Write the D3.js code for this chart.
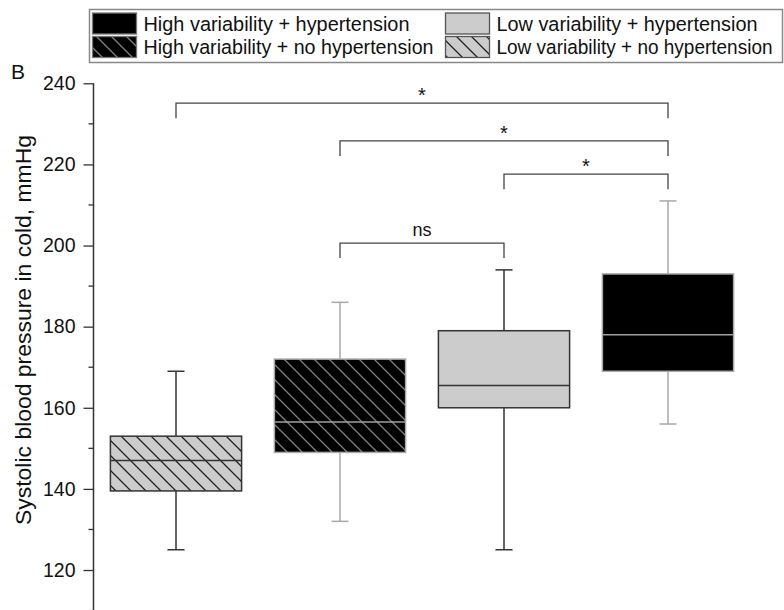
<!DOCTYPE html>
<html>
<head>
<meta charset="utf-8">
<script src="https://cdn.jsdelivr.net/npm/d3@7.9.0/dist/d3.min.js"></script>
<style>
  body { margin: 0; background: #fff; }
  svg { display: block; font-family: 'Liberation Sans', Arial, sans-serif; }
</style>
</head>
<body>
<svg id="chart"></svg>
<script>
// groups in drawing order (left to right)
const groups = [
  'Low variability + no hypertension',
  'High variability + no hypertension',
  'Low variability + hypertension',
  'High variability + hypertension'
];
const whiskerLow  = [125, 132, 125, 156];
const q1          = [139.5, 149, 160, 169];
const median      = [147, 156.5, 165.5, 178];
const q3          = [153, 172, 179, 193];
const whiskerHigh = [169, 186, 194, 211];

const majorTicks = [120, 140, 160, 180, 200, 220, 240];
const minorTicks = [110, 130, 150, 170, 190, 210, 230];

// significance brackets: [from group, to group, label]
const comparisons = [[0, 3, '*'], [1, 3, '*'], [2, 3, '*'], [1, 2, 'ns']];
const bracketTop  = [235.1, 225.8, 217.6, 200.6];

const legendOrder = [
  'High variability + hypertension',
  'High variability + no hypertension',
  'Low variability + hypertension',
  'Low variability + no hypertension'
];

const W = 784, H = 610;
const svg = d3.select('#chart').attr('width', W).attr('height', H);

const style = {
  'Low variability + no hypertension':  { fill: 'url(#hatchLight)', line: '#333', med: '#333' },
  'High variability + no hypertension': { fill: 'url(#hatchDark)',  line: '#a8a8a8', med: '#a0a0a0' },
  'Low variability + hypertension':     { fill: '#cccccc', line: '#333', med: '#333' },
  'High variability + hypertension':    { fill: '#000000', line: '#a8a8a8', med: '#a0a0a0' }
};

let defs = svg.append('defs');
function hatch(id, bg, fg) {
  let p = defs.append('pattern')
    .attr('id', id)
    .attr('patternUnits', 'userSpaceOnUse')
    .attr('width', 15).attr('height', 15);
  p.append('rect').attr('width', 15).attr('height', 15).attr('fill', bg);
  p.append('path')
    .attr('d', 'M-5,10 L5,20 M0,0 L15,15 M10,-5 L20,5')
    .attr('stroke', fg).attr('stroke-width', 1.3);
}
hatch('hatchLight', '#cccccc', '#222');
hatch('hatchDark', '#000000', '#808080');

let x = d3.scaleBand()
  .domain(groups)
  .range([94, 750])
  .paddingInner(0.2)
  .paddingOuter(0.1);

let y = d3.scaleLinear()
  .domain([108, 240])
  .range([83.3 + 132 * 4.056, 83.3]);

// y axis
let yAxis = svg.append('g')
  .attr('transform', 'translate(93.5,0)')
  .call(d3.axisLeft(y).tickValues(majorTicks).tickSize(10).tickPadding(8));
yAxis.select('.domain').remove();
yAxis.selectAll('.tick line').attr('stroke', '#333').attr('stroke-width', 1.3);
yAxis.selectAll('.tick text')
  .attr('font-size', 19.5)
  .attr('font-family', "'Liberation Sans', Arial, sans-serif")
  .attr('fill', '#111');

svg.append('g')
  .attr('transform', 'translate(93.5,0)')
  .selectAll('line')
  .data(minorTicks)
  .join('line')
  .attr('x1', -5).attr('x2', 0)
  .attr('y1', d => y(d)).attr('y2', d => y(d))
  .attr('stroke', '#333').attr('stroke-width', 1.3);

svg.append('line')
  .attr('x1', 93.5).attr('x2', 93.5)
  .attr('y1', y(240)).attr('y2', H + 5)
  .attr('stroke', '#333').attr('stroke-width', 1.5);

svg.append('text')
  .attr('transform', 'translate(31,330) rotate(-90)')
  .attr('text-anchor', 'middle')
  .attr('font-size', 22)
  .attr('fill', '#111')
  .attr('textLength', 390)
  .attr('lengthAdjust', 'spacingAndGlyphs')
  .text('Systolic blood pressure in cold, mmHg');

svg.append('text')
  .attr('x', 11).attr('y', 79)
  .attr('font-size', 21)
  .attr('fill', '#111')
  .text('B');

// boxes
let boxes = svg.append('g');
groups.forEach((g, i) => {
  let s = style[g];
  let cx = x(g) + x.bandwidth() / 2;
  let bg = boxes.append('g');
  // whiskers
  bg.append('line')
    .attr('x1', cx).attr('x2', cx)
    .attr('y1', y(whiskerHigh[i])).attr('y2', y(q3[i]))
    .attr('stroke', s.line).attr('stroke-width', 1.5);
  bg.append('line')
    .attr('x1', cx).attr('x2', cx)
    .attr('y1', y(q1[i])).attr('y2', y(whiskerLow[i]))
    .attr('stroke', s.line).attr('stroke-width', 1.5);
  [whiskerHigh[i], whiskerLow[i]].forEach(v => {
    bg.append('line')
      .attr('x1', cx - 8.5).attr('x2', cx + 8.5)
      .attr('y1', y(v)).attr('y2', y(v))
      .attr('stroke', s.line).attr('stroke-width', 1.5);
  });
  bg.append('rect')
    .attr('x', x(g)).attr('y', y(q3[i]))
    .attr('width', x.bandwidth())
    .attr('height', y(q1[i]) - y(q3[i]))
    .attr('fill', s.fill)
    .attr('stroke', s.line).attr('stroke-width', 1.5);
  bg.append('line')
    .attr('x1', x(g)).attr('x2', x(g) + x.bandwidth())
    .attr('y1', y(median[i])).attr('y2', y(median[i]))
    .attr('stroke', s.med).attr('stroke-width', 1.5);
});

// significance brackets
let legDrop = 3.7;
comparisons.forEach(([a, b, label], i) => {
  let xa = x(groups[a]) + x.bandwidth() / 2;
  let xb = x(groups[b]) + x.bandwidth() / 2;
  let top = bracketTop[i];
  svg.append('path')
    .attr('d', `M${xa},${y(top - legDrop)} V${y(top)} H${xb} V${y(top - legDrop)}`)
    .attr('fill', 'none')
    .attr('stroke', '#444').attr('stroke-width', 1.3);
  svg.append('text')
    .attr('x', (xa + xb) / 2)
    .attr('y', label === '*' ? y(top) - 1 : y(top) - 7)
    .attr('text-anchor', 'middle')
    .attr('font-size', label === '*' ? 20 : 18)
    .attr('fill', '#111')
    .text(label);
});

// legend
let lg = svg.append('g');
lg.append('rect')
  .attr('x', 89.5).attr('y', 9.5)
  .attr('width', 693).attr('height', 53)
  .attr('fill', '#fff')
  .attr('stroke', '#888').attr('stroke-width', 1.5);

let legendFill = {
  'High variability + hypertension': ['#000', '#777'],
  'High variability + no hypertension': ['url(#hatchDark)', '#777'],
  'Low variability + hypertension': ['#cccccc', '#555'],
  'Low variability + no hypertension': ['url(#hatchLight)', '#555']
};
let legendWidths = [266, 290, 261, 276];
legendOrder.forEach((name, i) => {
  let col = Math.floor(i / 2), row = i % 2;
  let sx = col === 0 ? 92.5 : 445.5;
  let sy = row === 0 ? 13 : 36.5;
  lg.append('rect')
    .attr('x', sx).attr('y', sy)
    .attr('width', 44).attr('height', 21)
    .attr('fill', legendFill[name][0])
    .attr('stroke', legendFill[name][1]).attr('stroke-width', 1.3);
  lg.append('text')
    .attr('transform', `translate(${sx + 51},${sy + 17.5}) scale(1,1.17)`)
    .attr('font-size', 17)
    .attr('fill', '#111')
    .attr('textLength', legendWidths[i])
    .attr('lengthAdjust', 'spacingAndGlyphs')
    .text(name);
});
</script>
</body>
</html>
